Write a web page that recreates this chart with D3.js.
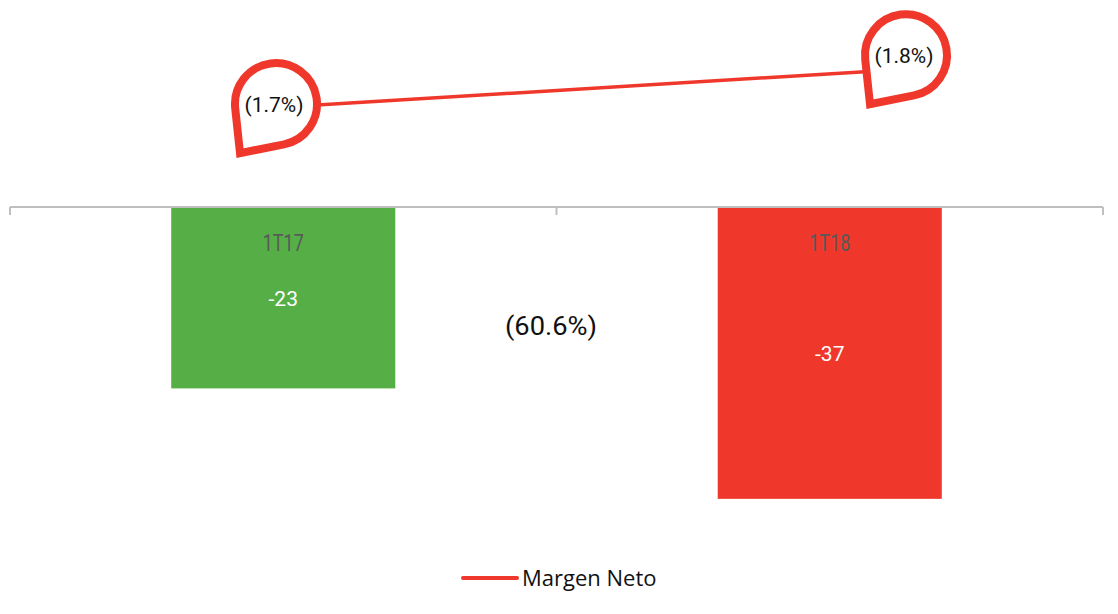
<!DOCTYPE html>
<html><head><meta charset="utf-8">
<script src="https://cdn.jsdelivr.net/npm/d3@7"></script>
<style>html,body{margin:0;padding:0;background:#fff;}svg{display:block;}</style>
</head><body><svg id="c" width="1118" height="614"></svg>
<script>
const categories = ["1T17", "1T18"];
const netIncome = [-23, -37];
const marginValues = [1.7, 1.8];
const marginLabels = ["(1.7%)", "(1.8%)"];
const changeLabel = "(60.6%)";
const legendLabel = "Margen Neto";

const W = 1118, H = 614;
const svg = d3.select("#c");
const axisY = 207;
const green = "#56AF46", red = "#EF382B";
const barColors = [green, red];
const font = "Roboto, sans-serif";

const x = d3.scaleBand().domain(categories).range([10, 1103]).paddingInner(0.59).paddingOuter(0.295);
const y = d3.scaleLinear().domain([0, -40]).range([axisY, axisY + 315.5]);
const xLine = d3.scalePoint().domain(categories).range([276, 906]);
const y2 = d3.scaleLinear().domain([1.7, 1.8]).range([107.6, 69.2]);

// bars
svg.selectAll("rect.bar").data(categories).enter().append("rect")
  .attr("x", d => x(d)).attr("width", x.bandwidth())
  .attr("y", axisY).attr("height", (d,i) => y(netIncome[i]) - axisY)
  .attr("fill", (d,i) => barColors[i]);

// axis
const axisG = svg.append("g").attr("transform", `translate(0,${axisY})`);
axisG.append("line").attr("x1", 10).attr("x2", 1103).attr("stroke", "#BFBFBF").attr("stroke-width", 2);
const tickXs = [10, (x(categories[0]) + x.bandwidth() + x(categories[1])) / 2, 1103];
axisG.selectAll("line.t").data(tickXs).enter().append("line")
  .attr("x1", d => d).attr("x2", d => d).attr("y1", 0).attr("y2", 8)
  .attr("stroke", "#BFBFBF").attr("stroke-width", 2);

// category labels inside bars
svg.selectAll("text.cat").data(categories).enter().append("text")
  .attr("x", d => x(d) + x.bandwidth()/2).attr("y", 251)
  .attr("text-anchor", "middle").attr("font-family", font).attr("font-size", 23)
  .attr("textLength", 41).attr("lengthAdjust", "spacingAndGlyphs")
  .attr("fill", "#595959").text(d => d);

// value labels
svg.selectAll("text.val").data(categories).enter().append("text")
  .attr("x", d => x(d) + x.bandwidth()/2).attr("y", (d,i) => (axisY + y(netIncome[i]))/2 + 8)
  .attr("text-anchor", "middle").attr("font-family", font).attr("font-size", 21)
  .attr("fill", "#fff").text((d,i) => netIncome[i]);

// change label
svg.append("text").attr("x", 551).attr("y", 335).attr("text-anchor", "middle")
  .attr("font-family", font).attr("font-size", 26)
  .attr("textLength", 92).attr("lengthAdjust", "spacingAndGlyphs")
  .attr("fill", "#111").text(changeLabel);

// margin line
const line = d3.line().x((d,i) => xLine(categories[i])).y(d => y2(d));
svg.append("path").datum(marginValues).attr("d", line)
  .attr("fill", "none").attr("stroke", red).attr("stroke-width", 3.5);

// balloons
const labelDy = [-3.5, -14];
function balloon(cx, cy) {
  const r = 41, tx = cx - 36, ty = cy + 49;
  const dx = tx - cx, dy = ty - cy, d = Math.hypot(dx, dy);
  const base = Math.atan2(dy, dx), a = Math.acos(r / d);
  const a1 = base + a, a2 = base - a;
  const p1 = [cx + r*Math.cos(a1), cy + r*Math.sin(a1)];
  const p2 = [cx + r*Math.cos(a2), cy + r*Math.sin(a2)];
  return `M${tx},${ty}L${p1[0]},${p1[1]}A${r},${r} 0 1 1 ${p2[0]},${p2[1]}Z`;
}
const bg = svg.selectAll("g.bal").data(marginValues).enter().append("g");
bg.append("path")
  .attr("d", (d,i) => balloon(xLine(categories[i]), y2(d) + labelDy[i]))
  .attr("fill", "#fff").attr("stroke", red).attr("stroke-width", 8).attr("stroke-linejoin", "miter");
bg.append("text")
  .attr("x", (d,i) => xLine(categories[i]) - 2).attr("y", (d,i) => y2(d) + labelDy[i] + 8)
  .attr("text-anchor", "middle").attr("font-family", font).attr("font-size", 21)
  .attr("textLength", 59).attr("lengthAdjust", "spacingAndGlyphs")
  .attr("fill", "#111").text((d,i) => marginLabels[i]);

// legend
svg.append("line").attr("x1", 463).attr("x2", 517).attr("y1", 578).attr("y2", 578)
  .attr("stroke", red).attr("stroke-width", 4).attr("stroke-linecap", "round");
svg.append("text").attr("x", 522).attr("y", 586).attr("font-family", "'Open Sans', sans-serif")
  .attr("font-size", 22).attr("fill", "#111").text(legendLabel);
</script></body></html>
